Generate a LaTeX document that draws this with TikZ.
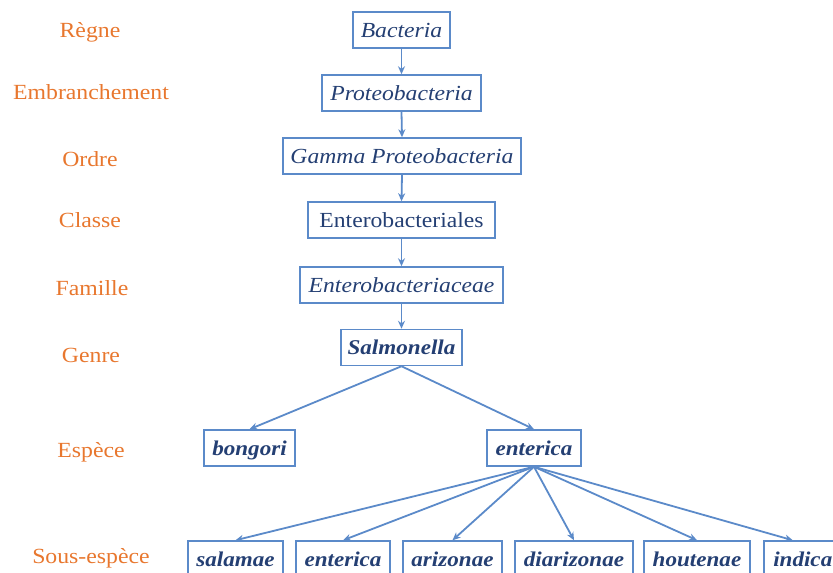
\documentclass[tikz,border=0pt]{standalone}
\usepackage{fontspec}
\setmainfont[FakeStretch=1.1]{Liberation Serif}
\usetikzlibrary{arrows.meta}
\definecolor{rankorange}{HTML}{E8772E}
\definecolor{boxblue}{HTML}{5B8AC9}
\definecolor{txtblue}{HTML}{243F73}
\begin{document}
\begin{tikzpicture}[x=1pt,y=-1pt,
  taxon/.style={draw=boxblue, line width=1.5pt, minimum height=36pt, inner sep=0pt,
    text=txtblue, text height=14pt, text depth=0pt,
    font=\fontsize{21.5}{24}\selectfont\itshape},
  taxonb/.style={taxon, font=\fontsize{21}{24}\selectfont\bfseries\itshape},
  rank/.style={text=rankorange, text height=13.5pt, text depth=0pt, inner sep=0pt,
    font=\fontsize{21.6}{24}\selectfont},
  link/.style={draw=boxblue, line width=1.8pt, -{Stealth[length=8pt,width=7pt]}}]
\useasboundingbox (0,0) rectangle (833,573);
\clip (0,0) rectangle (833,573);

% rank labels
\node[rank] (r1) at (90,31)  {Règne};
\node[rank] (r2) at (91,93)  {Embranchement};
\node[rank] (r3) at (90,160) {Ordre};
\node[rank] (r4) at (90,221) {Classe};
\node[rank] (r5) at (92,289) {Famille};
\node[rank] (r6) at (91,356) {Genre};
\node[rank] (r7) at (91,451) {Espèce};
\node[rank] (r8) at (91,557) {Sous-espèce};

% taxa
\node[taxon, minimum width=97pt]  (bact)   at (401.5,30)  {Bacteria};
\node[taxon, minimum width=159pt] (prot)   at (401.5,93)  {Proteobacteria};
\node[taxon, minimum width=238pt] (gamma)  at (402,156)   {Gamma Proteobacteria};
\node[taxon, minimum width=187pt, font=\fontsize{21.5}{24}\selectfont\upshape] (order) at (401.5,220) {Enterobacteriales};
\node[taxon, minimum width=203pt] (fam)    at (401.5,285) {Enterobacteriaceae};
\node[taxonb, minimum width=121pt] (salm)  at (401.5,347.5) {Salmonella};
\node[taxonb, minimum width=91pt]  (bong)  at (249.5,448) {bongori};
\node[taxonb, minimum width=94pt]  (ent)   at (534,448)   {enterica};
\node[taxonb, minimum width=95pt]  (sal)   at (235.5,559) {salamae};
\node[taxonb, minimum width=94pt]  (ent2)  at (343,559)   {enterica};
\node[taxonb, minimum width=99pt]  (ari)   at (452.5,559) {arizonae};
\node[taxonb, minimum width=118pt] (diar)  at (574,559)   {diarizonae};
\node[taxonb, minimum width=106pt] (hout)  at (697,559)   {houtenae};
\node[taxonb, anchor=west, inner xsep=9.5pt] (ind) at (763,559) {indica};

% connectors
\draw[link] (bact.south) -- (prot.north);
\draw[link] (prot.south) -- (gamma.north);
\draw[link] (gamma.south) -- (order.north);
\draw[link] (order.south) -- (fam.north);
\draw[link] (fam.south) -- (salm.north);
\draw[link] (salm.south) -- (bong.north);
\draw[link] (salm.south) -- (ent.north);
\foreach \t in {sal,ent2,ari,diar,hout}
  \draw[link] (ent.south) -- (\t.north);
\draw[link] (ent.south) -- ([xshift=-10pt]ind.north);
\end{tikzpicture}
\end{document}
